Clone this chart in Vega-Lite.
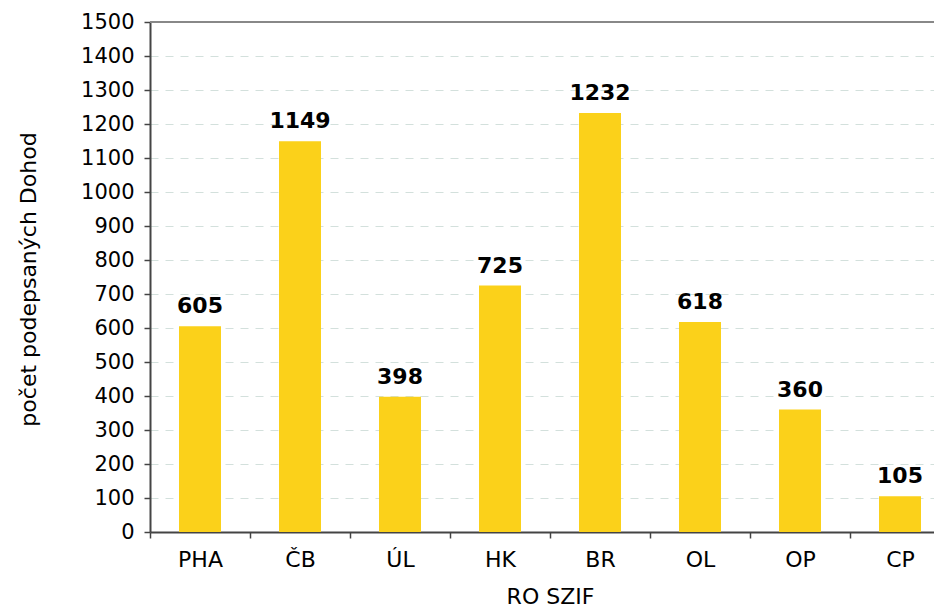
{
  "$schema": "https://vega.github.io/schema/vega-lite/v6.json",
  "width": 784,
  "height": 510,
  "autosize": {"type": "none"},
  "padding": {"left": 150, "top": 22, "right": 0, "bottom": 76},
  "background": "white",
  "config": {
    "font": "DejaVu Sans",
    "view": {"stroke": null},
    "axis": {"labelFont": "DejaVu Sans", "titleFont": "DejaVu Sans", "labelColor": "#000", "titleColor": "#000", "titleFontWeight": "normal"}
  },
  "data": {
    "values": [
      {"ro": "PHA", "pocet": 605},
      {"ro": "ČB", "pocet": 1149},
      {"ro": "ÚL", "pocet": 398},
      {"ro": "HK", "pocet": 725},
      {"ro": "BR", "pocet": 1232},
      {"ro": "OL", "pocet": 618},
      {"ro": "OP", "pocet": 360},
      {"ro": "CP", "pocet": 105}
    ]
  },
  "encoding": {
    "x": {
      "field": "ro", "type": "nominal", "sort": null,
      "scale": {"range": [0, 800], "paddingInner": 0, "paddingOuter": 0},
      "axis": {
        "title": "RO SZIF", "labelAngle": 0, "labelFontSize": 22, "titleFontSize": 22,
        "tickBand": "extent", "tickSize": 6, "tickColor": "#444", "domainColor": "#444", "domainWidth": 2, "tickWidth": 1.5,
        "labelPadding": 11, "titleX": 400, "titleY": 71, "titleBaseline": "alphabetic", "grid": false
      }
    },
    "y": {
      "field": "pocet", "type": "quantitative",
      "scale": {"domain": [0, 1500], "nice": false},
      "axis": {
        "title": "počet podepsaných Dohod", "format": "d", "values": [0,100,200,300,400,500,600,700,800,900,1000,1100,1200,1300,1400,1500],
        "labelFontSize": 21, "titleFontSize": 22, "tickSize": 6, "tickColor": "#444", "domainColor": "#444", "domainWidth": 2, "tickWidth": 1.5,
        "labelPadding": 10, "grid": true, "gridColor": "#d3e0dc", "gridDash": [8, 7], "gridWidth": 1,
        "titleX": -122, "titleY": 257, "titleAngle": -90, "titleBaseline": "middle", "titleAlign": "center"
      }
    }
  },
  "layer": [
    {"mark": {"type": "bar", "color": "#FBD11A", "width": {"band": 0.42}}},
    {"mark": {"type": "text", "fontWeight": "bold", "fontSize": 22, "dy": -13, "baseline": "alphabetic", "color": "#000"}, "encoding": {"text": {"field": "pocet", "type": "quantitative"}}},
    {"mark": {"type": "rule", "color": "#888", "strokeWidth": 2}, "encoding": {"y": {"datum": 1500}, "x": null}}
  ]
}
